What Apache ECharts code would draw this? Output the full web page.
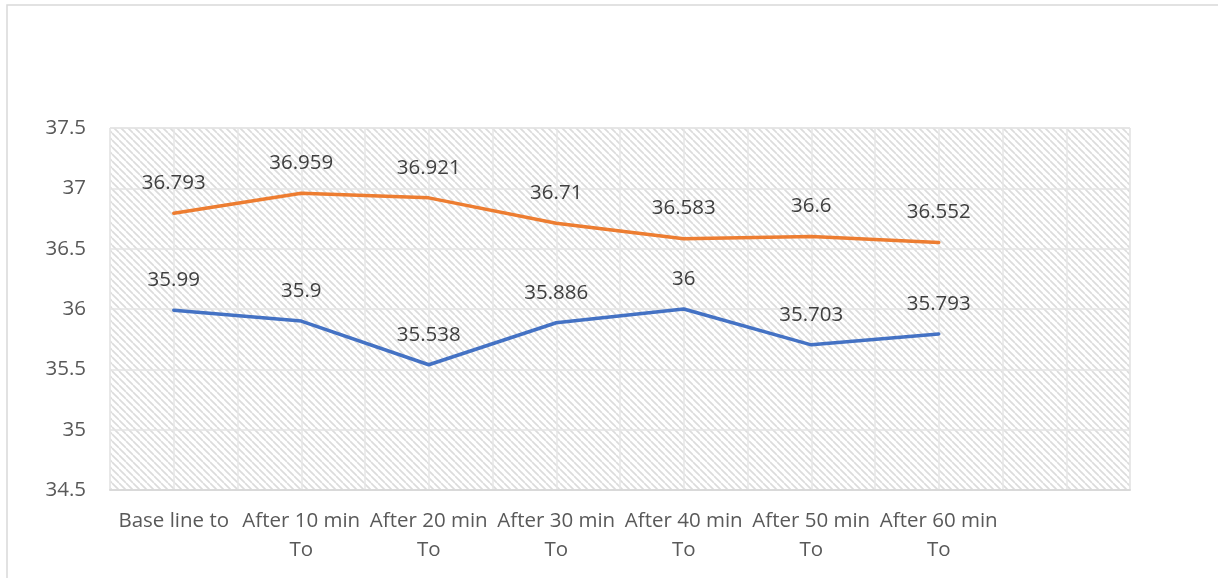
<!DOCTYPE html>
<html>
<head>
<meta charset="utf-8">
<script src="https://cdn.jsdelivr.net/npm/echarts@6/dist/echarts.min.js"></script>
<style>
  html, body { margin: 0; padding: 0; background: #fff; }
  #chart { width: 1218px; height: 578px; }
</style>
</head>
<body>
<div id="chart"></div>
<script>
// Categories along the time axis (last slot intentionally left empty)
const categories = [
  'Base line to', 'After 10 min\nTo', 'After 20 min\nTo', 'After 30 min\nTo',
  'After 40 min\nTo', 'After 50 min\nTo', 'After 60 min\nTo', ''
];
// Temperature readings for the two series
const orangeValues = [36.793, 36.959, 36.921, 36.71, 36.583, 36.6, 36.552];
const blueValues   = [35.99, 35.9, 35.538, 35.886, 36, 35.703, 35.793];
// Value axis range
const yMin = 34.5, yMax = 37.5, yStep = 0.5;

// Half-category slots used only for the vertical grid lines
const gridSlots = [];
for (let i = 0; i < categories.length * 2; i++) gridSlots.push(String(i));

// Diagonal hatch tile for the plot background
function hatchTile() {
  const s = 7;
  const c = document.createElement('canvas');
  c.width = s; c.height = s;
  const g = c.getContext('2d');
  g.fillStyle = '#ffffff';
  g.fillRect(0, 0, s, s);
  g.strokeStyle = '#dcdcdc';
  g.lineWidth = 1.7;
  for (const off of [-s, 0, s]) {
    g.beginPath();
    g.moveTo(off, 0);
    g.lineTo(off + s, s);
    g.stroke();
  }
  return c;
}

const font = '"Open Sans", "Noto Sans", sans-serif';
const fs = 20.5;
const chart = echarts.init(document.getElementById('chart'), null, { renderer: 'canvas' });

const labelStyle = {
  show: true,
  position: 'top',
  distance: 19,
  fontFamily: font,
  fontSize: fs,
  color: '#404040'
};

chart.setOption({
  animation: false,
  backgroundColor: '#ffffff',
  graphic: [{
    type: 'rect',
    shape: { x: 7, y: 5, width: 1230, height: 600 },
    style: { fill: 'none', stroke: '#d9d9d9', lineWidth: 1.5 },
    silent: true,
    z: -10
  }],
  grid: {
    left: 110, right: 88, top: 128, bottom: 88,
    show: true,
    backgroundColor: { image: hatchTile(), repeat: 'repeat' },
    borderColor: '#e0e0e0',
    borderWidth: 1
  },
  xAxis: [{
    type: 'category',
    data: categories,
    boundaryGap: true,
    axisLine: { show: true, lineStyle: { color: '#d9d9d9', width: 2 } },
    axisTick: { show: false },
    splitLine: { show: false },
    axisLabel: {
      interval: 0,
      margin: 17,
      fontFamily: font,
      fontSize: fs,
      lineHeight: 29,
      color: '#595959',
      align: 'center'
    }
  }, {
    type: 'category',
    data: gridSlots,
    boundaryGap: true,
    position: 'bottom',
    axisLine: { show: false },
    axisTick: { show: false },
    axisLabel: { show: false },
    splitLine: { show: true, interval: 0, lineStyle: { color: '#e6e6e6', width: 1.5 } }
  }],
  yAxis: {
    type: 'value',
    min: yMin, max: yMax, interval: yStep,
    axisLine: { show: false },
    axisTick: { show: false },
    axisLabel: {
      margin: 24,
      fontFamily: font,
      fontSize: fs,
      color: '#595959',
      formatter: v => String(+v.toFixed(3))
    },
    splitLine: { show: true, lineStyle: { color: '#e3e3e3', width: 1.5 } }
  },
  series: [{
    name: 'Orange',
    type: 'line',
    data: orangeValues,
    xAxisIndex: 0,
    symbol: 'circle',
    symbolSize: 1,
    showSymbol: true,
    lineStyle: { color: '#ED7D31', width: 3.5, cap: 'round', join: 'round' },
    itemStyle: { color: '#ED7D31' },
    label: labelStyle,
    z: 3
  }, {
    name: 'Blue',
    type: 'line',
    data: blueValues,
    xAxisIndex: 0,
    symbol: 'circle',
    symbolSize: 1,
    showSymbol: true,
    lineStyle: { color: '#4472C4', width: 3.5, cap: 'round', join: 'round' },
    itemStyle: { color: '#4472C4' },
    label: labelStyle,
    z: 3
  }]
});
</script>
</body>
</html>
